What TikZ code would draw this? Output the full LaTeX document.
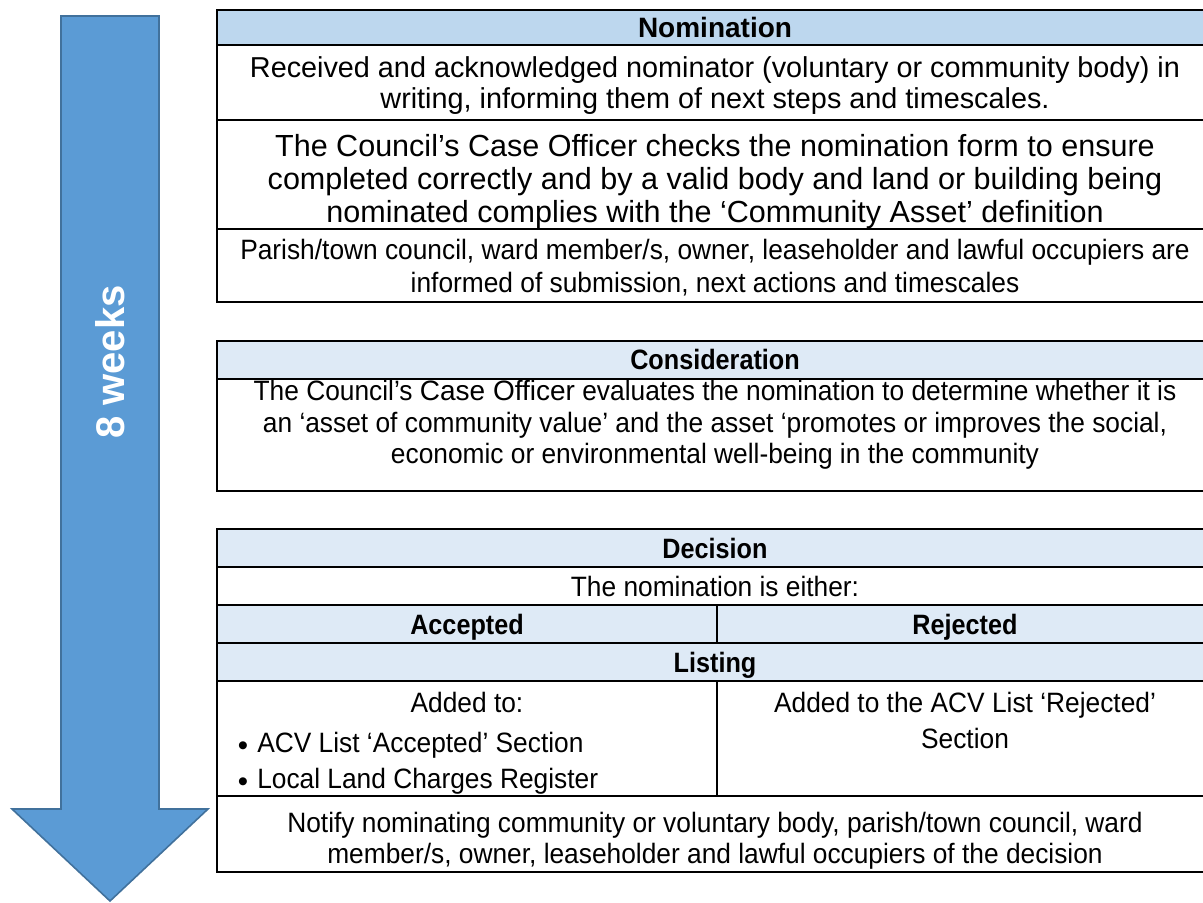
\documentclass[tikz,border=0pt]{standalone}
\usepackage{fontspec}
\setmainfont{Liberation Sans}
\newfontfamily\narrowfont[FakeStretch=0.94]{Liberation Sans}
\newfontfamily\narrowbold[FakeStretch=0.9]{Liberation Sans Bold}
\definecolor{arrowfill}{HTML}{5B9BD5}
\definecolor{arrowedge}{HTML}{41719C}
\definecolor{headdark}{HTML}{BDD7EE}
\definecolor{headlight}{HTML}{DEEAF6}
\begin{document}
\begin{tikzpicture}[x=0.75pt,y=-0.75pt,
  txt/.style={inner sep=0pt,anchor=base,font=\fontsize{21.6}{25}\selectfont},
  bigtxt/.style={inner sep=0pt,anchor=base,font=\fontsize{22.9}{27}\selectfont},
  ntxt/.style={inner sep=0pt,anchor=base,font=\fontsize{21}{25}\selectfont\narrowfont},
  btxt/.style={inner sep=0pt,anchor=base,font=\fontsize{21}{25}\selectfont\bfseries},
  nbtxt/.style={inner sep=0pt,anchor=base,font=\fontsize{21}{25}\selectfont\narrowbold},
  bullet/.style={inner sep=0pt,anchor=center,font=\fontsize{22}{22}\selectfont},
  rule/.style={line width=1.5pt,line cap=rect},
  hdark/.style={fill=headdark},
  hlight/.style={fill=headlight}]
\useasboundingbox (0,0) rectangle (1203,903);
\clip (0,0) rectangle (1203,903);

% timeline arrow
\draw[fill=arrowfill,draw=arrowedge,line width=1.2pt,line join=miter]
  (61,16) -- (159,16) -- (159,809) -- (208,809) -- (110,901) -- (12,809) -- (61,809) -- cycle;
\node[rotate=90,text=white,inner sep=0pt,font=\fontsize{30}{34}\selectfont\bfseries] (weeks) at (110,362) {8 weeks};

% ---- Nomination table ----
\fill[hdark] (217,10) rectangle (1213,45);
\draw[rule] (217,10) rectangle (1213,302);
\draw[rule] (217,45) -- (1213,45);
\draw[rule] (217,120) -- (1213,120);
\draw[rule] (217,229) -- (1213,229);
\node[btxt] (nomhead) at (715,37) {Nomination};
\node[txt] (nom1a) at (715,77) {Received and acknowledged nominator (voluntary or community body) in};
\node[txt] (nom1b) at (715,108) {writing, informing them of next steps and timescales.};
\node[bigtxt] (nom2a) at (715,156) {The Council’s Case Officer checks the nomination form to ensure};
\node[bigtxt] (nom2b) at (715,189) {completed correctly and by a valid body and land or building being};
\node[bigtxt] (nom2c) at (715,222) {nominated complies with the ‘Community Asset’ definition};
\node[ntxt] (nom3a) at (715,259) {Parish/town council, ward member/s, owner, leaseholder and lawful occupiers are};
\node[ntxt] (nom3b) at (715,292) {informed of submission, next actions and timescales};

% ---- Consideration table ----
\fill[hlight] (217,341) rectangle (1213,379);
\draw[rule] (217,341) rectangle (1213,491);
\draw[rule] (217,379) -- (1213,379);
\node[nbtxt] (conhead) at (715,369) {Consideration};
\node[ntxt] (con1) at (715,400) {The Council’s {\fontspec{Liberation Sans}Case Officer} evaluates the nomination to determine whether it is};
\node[ntxt] (con2) at (715,432) {an ‘asset of community value’ and the asset ‘promotes or improves the social,};
\node[ntxt] (con3) at (715,463) {economic or environmental well-being in the community};

% ---- Decision table ----
\fill[hlight] (217,529) rectangle (1213,567);
\fill[hlight] (217,605) rectangle (1213,681);
\draw[rule] (217,529) rectangle (1213,872);
\foreach \yy in {567,605,643,681,796} \draw[rule] (217,\yy) -- (1213,\yy);
\draw[rule] (717,605) -- (717,643);
\draw[rule] (717,681) -- (717,796);
\node[nbtxt] (dechead) at (715,558) {Decision};
\node[ntxt] (either) at (715,596) {The nomination is either:};
\node[nbtxt] (accepted) at (467,634) {Accepted};
\node[nbtxt] (rejected) at (965,634) {Rejected};
\node[nbtxt] (listing) at (715,672) {Listing};
\node[ntxt] (addto) at (467,712) {Added to:};
\node[ntxt,anchor=base west] (acv) at (257,752) {ACV List ‘Accepted’ Section};
\node[ntxt,anchor=base west] (llc) at (257,788) {Local Land Charges Register};
\node[bullet] (bul1) at (243,749) {•};
\node[bullet] (bul2) at (243,785) {•};
\node[ntxt] (rej1) at (965,712) {Added to the ACV List ‘Rejected’};
\node[ntxt] (rej2) at (965,748) {Section};
\node[ntxt] (notify1) at (715,832) {Notify nominating community or voluntary body, parish/town council, ward};
\node[ntxt] (notify2) at (715,863) {member/s, owner, leaseholder and lawful occupiers of the decision};
\end{tikzpicture}
\end{document}
